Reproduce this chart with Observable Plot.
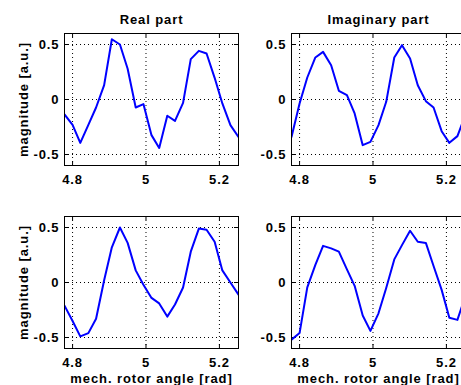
<!DOCTYPE html>
<html>
<head>
<meta charset="utf-8">
<script src="https://cdn.jsdelivr.net/npm/d3@7"></script>
<script src="https://cdn.jsdelivr.net/npm/@observablehq/plot@0.6"></script>
<style>
  html, body { margin: 0; padding: 0; background: #fff; overflow: hidden; }
  #fig { position: relative; width: 461px; height: 385px; overflow: hidden; background: #fff; }
  #fig > div { position: absolute; }
  #fig svg { max-width: none !important; display: block; }
</style>
</head>
<body>
<div id="fig"></div>
<script>
// Data
const angle = [4.778, 4.800, 4.821, 4.843, 4.864, 4.886, 4.907, 4.929, 4.950, 4.972, 4.993, 5.015,
               5.036, 5.058, 5.079, 5.101, 5.122, 5.144, 5.165, 5.187, 5.208, 5.230, 5.252];
const realTop = [-0.136, -0.23, -0.394, -0.23, -0.073, 0.13, 0.548, 0.5, 0.28, -0.073, -0.042, -0.324,
                 -0.44, -0.148, -0.194, -0.03, 0.367, 0.442, 0.418, 0.197, -0.036, -0.233, -0.34];
const imagTop = [-0.34, -0.036, 0.2, 0.382, 0.433, 0.312, 0.079, 0.039, -0.127, -0.415, -0.385, -0.233,
                 -0.021, 0.382, 0.494, 0.373, 0.13, -0.015, -0.073, -0.288, -0.394, -0.333, -0.136];
const realBottom = [-0.21, -0.35, -0.49, -0.46, -0.33, 0.02, 0.32, 0.5, 0.36, 0.11, -0.02, -0.14,
                    -0.19, -0.31, -0.2, -0.045, 0.28, 0.49, 0.48, 0.37, 0.11, 0.0, -0.11];
const imagBottom = [-0.52, -0.46, -0.045, 0.16, 0.333, 0.31, 0.28, 0.12, -0.03, -0.3, -0.44, -0.28,
                    -0.05, 0.21, 0.34, 0.47, 0.37, 0.36, 0.15, -0.067, -0.32, -0.34, -0.12];
const xTicks = [4.8, 5, 5.2];
const yTicks = [-0.5, 0, 0.5];
const xDomain = [4.778, 5.252];
const yDomain = [-0.6, 0.6];
const titles = ["Real part", "Imaginary part"];
const yLabel = "magnitude [a.u.]";
const xLabel = "mech. rotor angle [rad]";

const FW = 174, FH = 132;
const M = {left: 64, right: 12, top: 33, bottom: 40};

function panel(values, opts) {
  const data = angle.map((x, i) => ({x, y: values[i]}));
  const marks = [
    Plot.gridX(xTicks, {stroke: "black", strokeOpacity: 1, strokeDasharray: "1,3"}),
    Plot.gridY(yTicks, {stroke: "black", strokeOpacity: 1, strokeDasharray: "1,3"}),
    Plot.tickX(xTicks, {stroke: "black", insetTop: FH - 4}),
    Plot.tickX(xTicks, {stroke: "black", insetBottom: FH - 4}),
    Plot.tickY(yTicks, {stroke: "black", insetRight: FW - 4}),
    Plot.tickY(yTicks, {stroke: "black", insetLeft: FW - 4}),
    Plot.line(data, {x: "x", y: "y", stroke: "#0000ff", strokeWidth: 2, clip: true}),
    Plot.frame({stroke: "black"}),
    Plot.axisX({ticks: xTicks, tickSize: 0, tickPadding: 9, label: null, tickFormat: d => String(d)}),
    Plot.axisY({ticks: yTicks, tickSize: 0, tickPadding: 5, label: null, tickFormat: d => String(d)})
  ];
  if (opts.title) marks.push(Plot.text([opts.title], {text: d => d, frameAnchor: "top", lineAnchor: "bottom", dy: -10}));
  if (opts.yLabel) marks.push(Plot.text([opts.yLabel], {text: d => d, frameAnchor: "left", rotate: -90, textAnchor: "middle", lineAnchor: "middle", dx: -41}));
  if (opts.xLabel) marks.push(Plot.text([opts.xLabel], {text: d => d, frameAnchor: "bottom", lineAnchor: "bottom", dy: 34}));
  return Plot.plot({
    width: M.left + FW + M.right,
    height: M.top + FH + M.bottom,
    marginLeft: M.left, marginRight: M.right, marginTop: M.top, marginBottom: M.bottom,
    style: {fontFamily: "'Liberation Sans', Arial, sans-serif", fontSize: "13px", fontWeight: "bold",
            letterSpacing: "0.9px", background: "transparent", overflow: "visible", color: "black"},
    x: {domain: xDomain},
    y: {domain: yDomain},
    marks
  });
}

const fig = document.getElementById("fig");
const panels = [
  {values: realTop, left: 0, top: 0, title: titles[0], yLabel},
  {values: imagTop, left: 227, top: 0, title: titles[1]},
  {values: realBottom, left: 0, top: 183, yLabel, xLabel},
  {values: imagBottom, left: 227, top: 183, xLabel}
];
for (const p of panels) {
  const d = document.createElement("div");
  d.style.left = p.left + "px";
  d.style.top = p.top + "px";
  d.appendChild(panel(p.values, p));
  fig.appendChild(d);
}
</script>
</body>
</html>
